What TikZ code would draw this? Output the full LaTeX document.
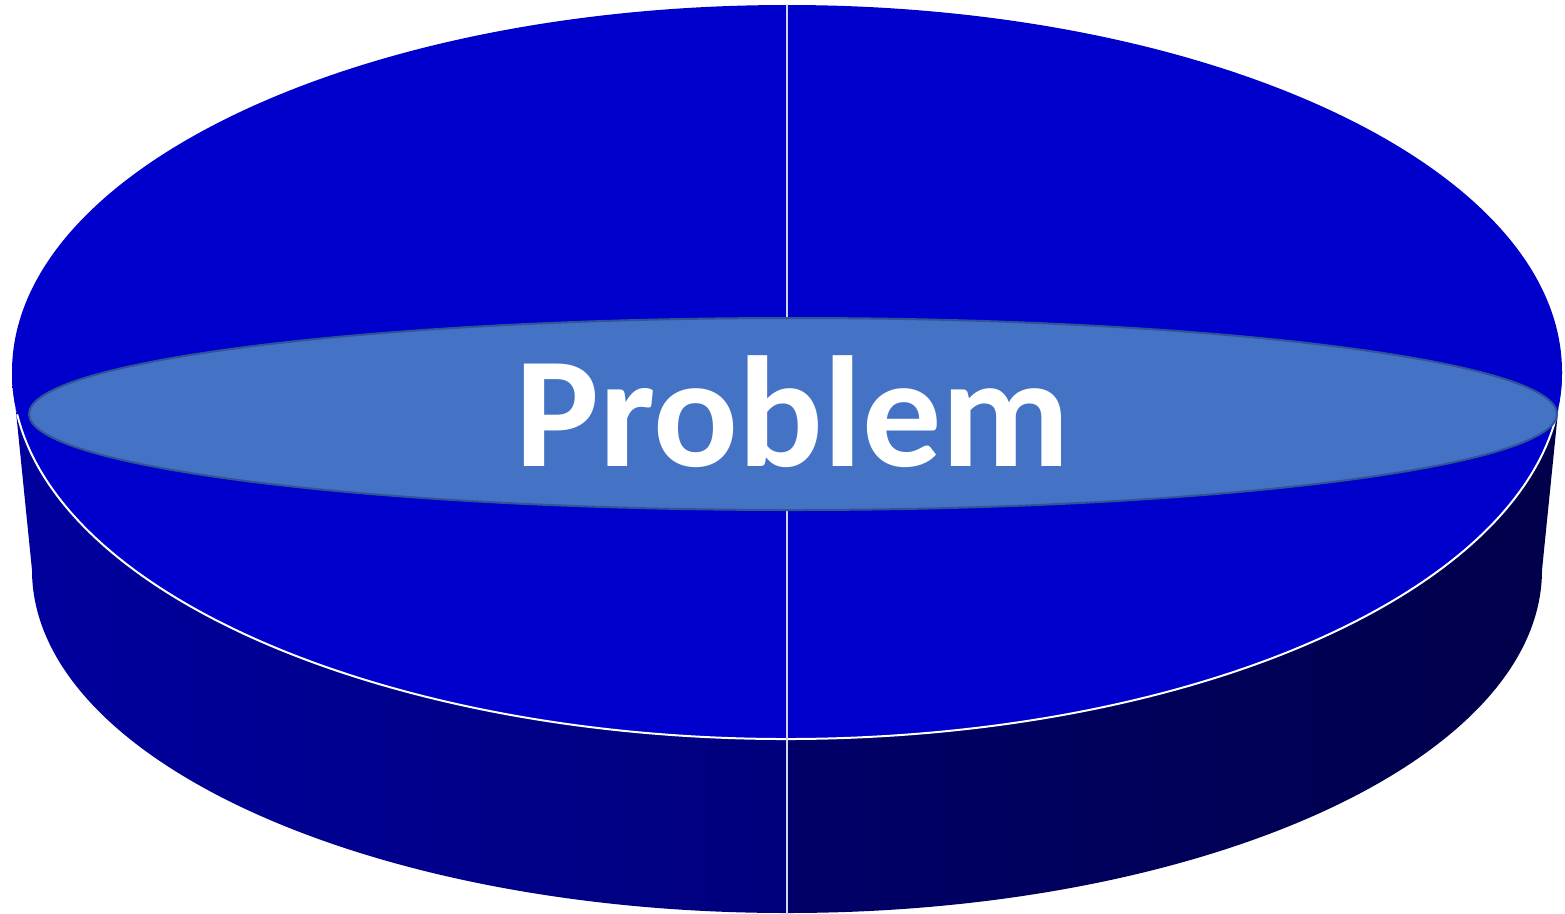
\documentclass[tikz,border=0pt]{standalone}
\usepackage{fontspec}
\usepackage{tikz}
\newfontfamily\discfont{Carlito}
\definecolor{dkTop}{HTML}{0000CC}
\definecolor{dkSideA}{HTML}{00009E}
\definecolor{dkSideB}{HTML}{00007C}
\definecolor{dkSideC}{HTML}{000068}
\definecolor{dkSideD}{HTML}{00004A}
\definecolor{dkInner}{HTML}{4472C4}
\definecolor{dkInnerEdge}{HTML}{2F5597}
\definecolor{dkSplit}{HTML}{D4D4EE}
\tikzset{
 disc/.style={line join=round,line cap=round},
 topface/.style={fill=dkTop},
 sideleft/.style={left color=dkSideA,right color=dkSideB,draw=none},
 sideright/.style={left color=dkSideC,right color=dkSideD,draw=none},
 rim/.style={draw=white,line width=2pt},
 split/.style={draw=dkSplit,line width=2pt},
 titletext/.style={font=\discfont\bfseries\fontsize{158}{158}\selectfont,text=white,anchor=base,inner sep=0pt}
}
\begin{document}
\begin{tikzpicture}[disc,x=1pt,y=-1pt]
 \useasboundingbox (0,0) rectangle (1565,913);
 % side of the disc, two halves
 \path[sideleft] (12,372) -- (32,570) arc[start angle=180,end angle=90,x radius=755,y radius=343]
   -- (787,739) arc[start angle=90,end angle=180,x radius=775,y radius=367] -- cycle;
 \path[sideright] (787,739) arc[start angle=90,end angle=0,x radius=775,y radius=367]
   -- (1542,570) arc[start angle=0,end angle=90,x radius=755,y radius=343] -- cycle;
 % top face
 \fill[topface] (787,372) ellipse[x radius=775,y radius=367];
 \draw[rim] (787,372) ++(173.3:775 and 367) arc[start angle=173.3,end angle=6.7,x radius=775,y radius=367];
 \coordinate (splittop) at (787,5);
 \coordinate (splitbot) at (787,913);
 \draw[split] (splittop) -- (splitbot);
 % inner ellipse with the word
 \fill[dkInner] (793,414) ellipse[x radius=764,y radius=96];
 \draw[dkInnerEdge,line width=2pt] (793,414) ellipse[x radius=764,y radius=96];
 \node[titletext] (title) at (793,466) {Problem};
\end{tikzpicture}
\end{document}
